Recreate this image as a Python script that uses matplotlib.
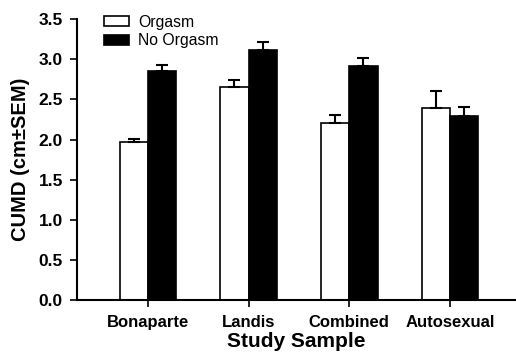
import numpy as np
import matplotlib
matplotlib.use("Agg")
import matplotlib.pyplot as plt

plt.rcParams['font.family'] = ['Liberation Sans', 'DejaVu Sans']

studies = ["Bonaparte", "Landis", "Combined", "Autosexual"]
orgasm = [1.97, 2.66, 2.21, 2.39]
orgasm_sem = [0.04, 0.08, 0.10, 0.22]
no_orgasm = [2.85, 3.12, 2.92, 2.29]
no_orgasm_sem = [0.08, 0.09, 0.09, 0.11]

x = np.arange(len(studies))
w = 0.28

fig = plt.figure(figsize=(5.16, 3.54), dpi=100)
ax = fig.add_axes([0.149, 0.1525, 0.849, 0.7935])

err_kw = dict(ecolor="black", elinewidth=1.5, capsize=4.3, capthick=1.5)
ax.bar(x - w / 2, orgasm, w, color="white", edgecolor="black", linewidth=1.2,
       yerr=[np.zeros(4), orgasm_sem], error_kw=err_kw, label="Orgasm")
ax.bar(x + w / 2, no_orgasm, w, color="black", edgecolor="black", linewidth=1.2,
       yerr=[np.zeros(4), no_orgasm_sem], error_kw=err_kw, label="No Orgasm")

ax.set_xlim(-0.705, 3.645)
ax.set_ylim(0, 3.5)
ax.set_yticks(np.arange(0, 3.51, 0.5))
ax.set_yticklabels([f"{v:.1f}" for v in np.arange(0, 3.51, 0.5)],
                   fontsize=12.5, fontweight="bold")
ax.set_xticks(x)
ax.set_xticklabels(studies, fontsize=12, fontweight="bold")
ax.tick_params(axis="both", direction="out", length=5, width=1.2)
ax.tick_params(axis="y", pad=5)
ax.tick_params(axis="x", pad=6)

for s in ["top", "right"]:
    ax.spines[s].set_visible(False)
for s in ["left", "bottom"]:
    ax.spines[s].set_linewidth(1.5)

ax.set_xlabel("Study Sample", fontsize=15, fontweight="bold", labelpad=1)
ax.set_ylabel("CUMD (cm\u00b1SEM)", fontsize=14.5, fontweight="bold", labelpad=6)

ax.legend(loc="upper left", bbox_to_anchor=(0.18, 0.99), bbox_transform=fig.transFigure,
          frameon=False, fontsize=11.3, handlelength=1.6, handleheight=0.55,
          labelspacing=0.25, handletextpad=0.57, borderaxespad=0.3)

fig.savefig("out.png", dpi=100)
